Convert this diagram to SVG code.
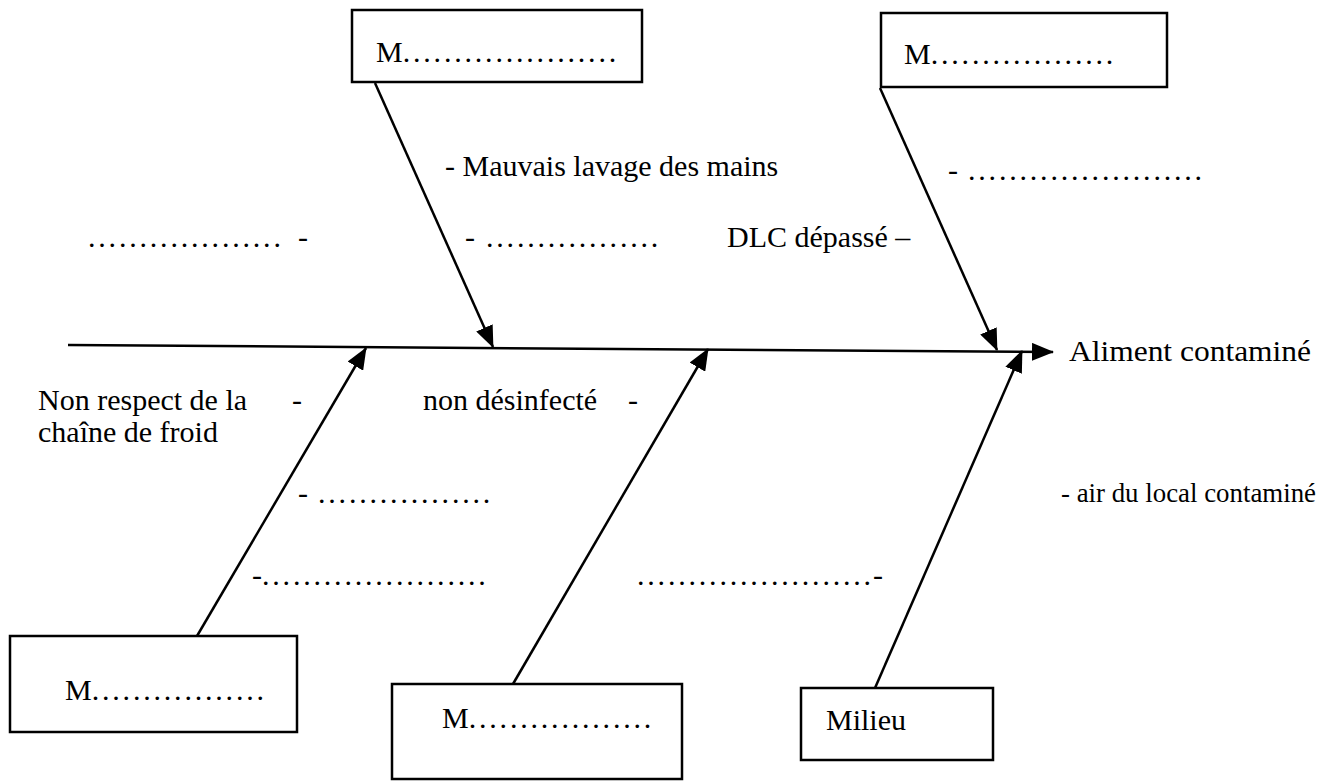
<svg xmlns="http://www.w3.org/2000/svg" width="1329" height="781" viewBox="0 0 1329 781">
<style>
  .box { fill: #ffffff; stroke: #000; stroke-width: 2.5; }
  .bone { stroke: #000; stroke-width: 2.5; fill: none; marker-end: url(#ah); }
  text { font-family: "Liberation Serif", "Times New Roman", serif; font-size: 30px; fill: #000; }
  .d { letter-spacing: 2.8px; }
</style>
<defs>
  <marker id="ah" viewBox="0 0 22 18" refX="21" refY="9" markerWidth="22" markerHeight="18" markerUnits="userSpaceOnUse" orient="auto">
    <path d="M0,0 L22,9 L0,18 Z" fill="#000"/>
  </marker>
</defs>
<rect width="1329" height="781" fill="#ffffff"/>

<g id="connectors">
  <line class="bone" x1="68" y1="345" x2="1053" y2="352"/>
  <line class="bone" x1="375" y1="83" x2="493" y2="347"/>
  <line class="bone" x1="880" y1="88" x2="997" y2="350"/>
  <line class="bone" x1="197" y1="636" x2="366" y2="348"/>
  <line class="bone" x1="513" y1="684" x2="708" y2="349"/>
  <line class="bone" x1="875" y1="688" x2="1022" y2="351"/>
</g>

<g id="node-top-left">
  <rect class="box" x="352" y="10" width="290" height="72"/>
  <text x="376" y="62">M<tspan class="d">.....................</tspan></text>
</g>
<g id="node-top-right">
  <rect class="box" x="881" y="13" width="286" height="74"/>
  <text x="904" y="64">M<tspan class="d">..................</tspan></text>
</g>
<g id="node-bottom-left">
  <rect class="box" x="10" y="636" width="287" height="96"/>
  <text x="65" y="700">M<tspan class="d">.................</tspan></text>
</g>
<g id="node-bottom-middle">
  <rect class="box" x="392" y="684" width="290" height="95"/>
  <text x="442" y="728">M<tspan class="d">..................</tspan></text>
</g>
<g id="node-bottom-right">
  <rect class="box" x="801" y="688" width="192" height="72"/>
  <text x="826" y="730">Milieu</text>
</g>
<g id="node-effect">
  <text x="1069" y="361" textLength="242" lengthAdjust="spacingAndGlyphs">Aliment contaminé</text>
</g>

<g id="labels">
  <text x="445" y="176">- Mauvais lavage des mains</text>
  <text x="88" y="247"><tspan class="d">...................</tspan><tspan x="298">-</tspan></text>
  <text x="465" y="247">-<tspan x="486" class="d">.................</tspan></text>
  <text x="727" y="247">DLC dépassé –</text>
  <text x="948" y="180">-<tspan x="968" class="d">.......................</tspan></text>
  <text x="38" y="410">Non respect de la<tspan x="292">-</tspan></text>
  <text x="38" y="442">chaîne de froid</text>
  <text x="423" y="410">non désinfecté<tspan x="628">-</tspan></text>
  <text x="298" y="503">-<tspan x="318" class="d">.................</tspan></text>
  <text x="252" y="585">-<tspan x="262" class="d">......................</tspan></text>
  <text x="637" y="585"><tspan class="d">.......................</tspan><tspan x="873">-</tspan></text>
  <text x="1061" y="502" style="font-size:27px" textLength="255" lengthAdjust="spacingAndGlyphs">- air du local contaminé</text>
</g>
</svg>
